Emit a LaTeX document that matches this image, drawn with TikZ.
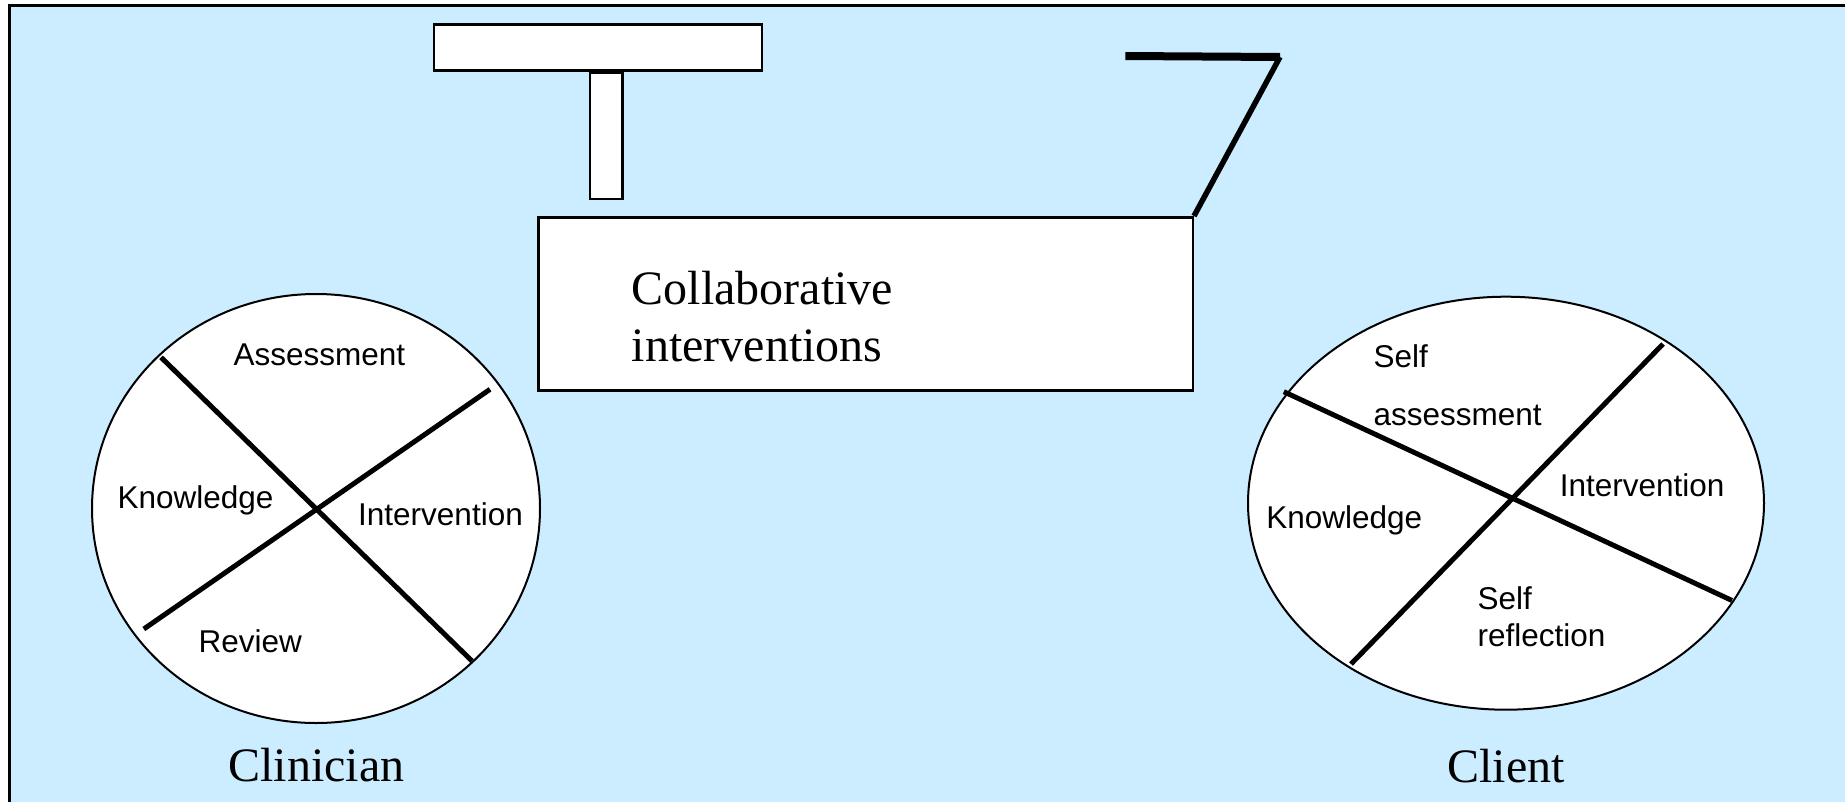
\documentclass[tikz,border=0pt]{standalone}
\usepackage{fontspec}
\setmainfont{Liberation Serif}
\setsansfont{Liberation Sans}
\usetikzlibrary{shapes.geometric}
\definecolor{bgblue}{HTML}{CCECFF}
\begin{document}
\begin{tikzpicture}[x=1pt,y=-1pt,
  plainbox/.style={draw, fill=white, line width=2.5pt, inner sep=0pt},
  wheel/.style={ellipse, draw, fill=white, line width=2pt, inner sep=0pt},
  spoke/.style={line width=5pt},
  seglabel/.style={font=\fontsize{31.5}{36}\selectfont\sffamily, inner sep=0pt, anchor=base west},
  seriflabel/.style={font=\fontsize{48}{57}\selectfont\rmfamily, inner sep=0pt, anchor=base west}]
\useasboundingbox (0,0) rectangle (1845,801);
\fill[white] (0,0) rectangle (1845,801);
\fill[bgblue] (9,5) rectangle (1850,806);
\draw[line width=3pt] (9,806) -- (9,5) -- (1850,5);

% T shape
\node[plainbox, minimum width=32.7pt, minimum height=125.8pt] (stem) at (606.2,135.85) {};
\node[plainbox, minimum width=328pt, minimum height=46pt] (bar) at (597.75,47.5) {};

% main box
\node[plainbox, minimum width=654.5pt, minimum height=173.2pt] (box) at (865.5,303.85) {};
\node[seriflabel] (collab1) at (631.7,304.3) {Collaborative};
\node[seriflabel] (collab2) at (631.7,361.7) {interventions};

% the "7" line
\coordinate (kcorner) at (1280,57);
\coordinate (kend) at (1125.4,56);
\draw[line width=5.5pt] (box.north east) -- (kcorner);
\draw[line width=8pt] (kcorner) -- (kend);

% Clinician wheel
\node[wheel, minimum width=448pt, minimum height=429pt] (clin) at (316,508.5) {};
\coordinate (ca1) at (161,357.3);
\coordinate (ca2) at (472,661);
\coordinate (cb1) at (143.8,629);
\coordinate (cb2) at (490,389.3);
\draw[spoke] (ca1) -- (ca2);
\draw[spoke] (cb1) -- (cb2);
\node[seglabel] (cassess) at (233.3,365) {Assessment};
\node[seglabel] (cknow) at (117.4,508) {Knowledge};
\node[seglabel] (cinterv) at (358,525) {Intervention};
\node[seglabel] (creview) at (198.4,652.7) {Review};
\node[seriflabel, anchor=base] (clinician) at (316.5,781) {Clinician};

% Client wheel
\node[wheel, minimum width=516pt, minimum height=413pt] (client) at (1506,503.2) {};
\coordinate (da1) at (1283.8,391.7);
\coordinate (da2) at (1732,600.5);
\coordinate (db1) at (1351,664);
\coordinate (db2) at (1663,344);
\draw[spoke] (da1) -- (da2);
\draw[spoke] (db1) -- (db2);
\node[seglabel] (dself) at (1373.3,367.3) {Self};
\node[seglabel] (dassess) at (1373.3,425) {assessment};
\node[seglabel] (dinterv) at (1559.7,496.7) {Intervention};
\node[seglabel] (dknow) at (1266.2,528.3) {Knowledge};
\node[seglabel] (dself2) at (1477.3,609.3) {Self};
\node[seglabel] (drefl) at (1477.3,646) {reflection};
\node[seriflabel, anchor=base] (clientlbl) at (1506,782.7) {Client};
\end{tikzpicture}
\end{document}
